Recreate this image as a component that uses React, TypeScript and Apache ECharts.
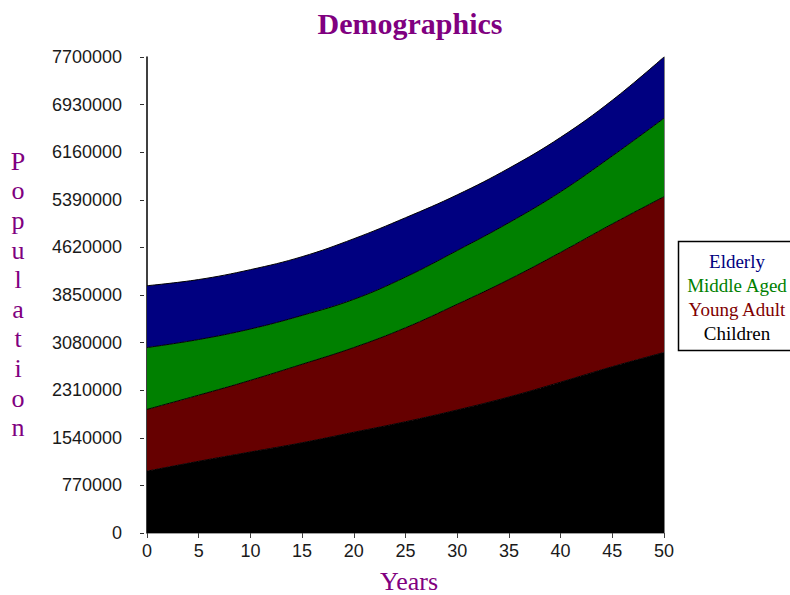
import React, { useEffect, useRef } from "react";
import * as echarts from "echarts";

// Population by age group, every five years
const years = ["0", "5", "10", "15", "20", "25", "30", "35", "40", "45", "50"];
const children = [1000000, 1160000, 1310000, 1460000, 1630000, 1800000, 1990000, 2200000, 2440000, 2690000, 2920000];
const youngAdult = [1000000, 1070000, 1160000, 1270000, 1370000, 1520000, 1710000, 1900000, 2100000, 2310000, 2520000];
const middleAged = [1000000, 900000, 830000, 790000, 780000, 820000, 870000, 920000, 980000, 1100000, 1270000];
const elderly = [1000000, 970000, 960000, 950000, 980000, 960000, 900000, 880000, 880000, 900000, 990000];

const yMax = 7700000;
const yStep = 770000;

const groupNames = ["Children", "Young Adult", "Middle Aged", "Elderly"];
const groupColors = ["#000000", "#660000", "#008000", "#000080"];
const legendTextColors = ["#000000", "#800000", "#008000", "#000080"];

const AXIS_FONT = '"Liberation Sans", Arial, sans-serif';
const SERIF = '"Liberation Serif", "Times New Roman", serif';

export default function App() {
  const ref = useRef<HTMLDivElement>(null);

  useEffect(() => {
    if (!ref.current) return;
    const chart = echarts.init(ref.current, null, { renderer: "svg" });

    const groups = [children, youngAdult, middleAged, elderly];
    const series = groups.map((vals, i) => ({
      name: groupNames[i],
      type: "line",
      stack: "population",
      yAxisIndex: 0,
      smooth: 0.4,
      showSymbol: false,
      symbol: "none",
      data: vals,
      lineStyle: { color: "#000000", width: 1 },
      areaStyle: { color: groupColors[i], opacity: 1 },
      itemStyle: { color: groupColors[i] },
      z: 2,
    }));

    // Legend entries listed top to bottom: Elderly first
    const legendOrder = [3, 2, 1, 0];
    const legendTexts = legendOrder.map((gi, row) => ({
      type: "text",
      style: {
        text: groupNames[gi],
        x: 737,
        y: 261.6 + row * 24,
        textAlign: "center",
        textVerticalAlign: "middle",
        font: `19px ${SERIF}`,
        fill: legendTextColors[gi],
      },
      z: 11,
    }));

    chart.setOption({
      animation: false,
      backgroundColor: "#ffffff",
      grid: { left: 147, top: 57, width: 517, height: 476, containLabel: false },
      xAxis: {
        type: "category",
        data: years,
        boundaryGap: false,
        axisLine: { show: true, lineStyle: { color: "#a0a0a0", width: 1 } },
        axisTick: { show: true, length: 5, alignWithLabel: true, lineStyle: { color: "#404040" } },
        axisLabel: { margin: 9, color: "#1a1a1a", fontFamily: AXIS_FONT, fontSize: 18 },
        splitLine: { show: false },
      },
      yAxis: [
        {
          type: "value",
          position: "left",
          offset: 3,
          min: 0,
          max: yMax,
          interval: yStep,
          axisLine: { show: false },
          axisTick: { show: true, length: 4, lineStyle: { color: "#303030" } },
          axisLabel: {
            margin: 22,
            color: "#1a1a1a",
            fontFamily: AXIS_FONT,
            fontSize: 18,
            formatter: (v: number) => String(v),
          },
          splitLine: { show: false },
        },
        {
          type: "value",
          position: "left",
          offset: 0,
          min: 0,
          max: yMax,
          axisLine: { show: true, lineStyle: { color: "#000000", width: 1.5 } },
          axisTick: { show: false },
          axisLabel: { show: false },
          splitLine: { show: false },
        },
        {
          type: "value",
          position: "right",
          min: 0,
          max: yMax,
          axisLine: { show: true, lineStyle: { color: "#808080", width: 1 } },
          axisTick: { show: false },
          axisLabel: { show: false },
          splitLine: { show: false },
        },
      ],
      series,
      graphic: [
        {
          type: "text",
          style: {
            text: "Demographics",
            x: 410,
            y: 23,
            textAlign: "center",
            textVerticalAlign: "middle",
            font: `bold 30px ${SERIF}`,
            fill: "#800080",
          },
        },
        {
          type: "text",
          style: {
            text: "Years",
            x: 409,
            y: 581,
            textAlign: "center",
            textVerticalAlign: "middle",
            font: `26px ${SERIF}`,
            fill: "#800080",
          },
        },
        {
          type: "text",
          style: {
            text: "P\no\np\nu\nl\na\nt\ni\no\nn",
            x: 18,
            y: 146.4,
            textAlign: "center",
            textVerticalAlign: "top",
            font: `26px ${SERIF}`,
            lineHeight: 29.6,
            fill: "#800080",
          },
        },
        {
          type: "rect",
          shape: { x: 678.5, y: 241.5, width: 140, height: 109 },
          style: { fill: "#ffffff", stroke: "#000000", lineWidth: 1.5 },
          z: 10,
        },
        ...legendTexts,
      ],
    });

    return () => chart.dispose();
  }, []);

  return (
    <div
      ref={ref}
      style={{ position: "fixed", left: 0, top: 0, width: 790, height: 595 }}
    />
  );
}
